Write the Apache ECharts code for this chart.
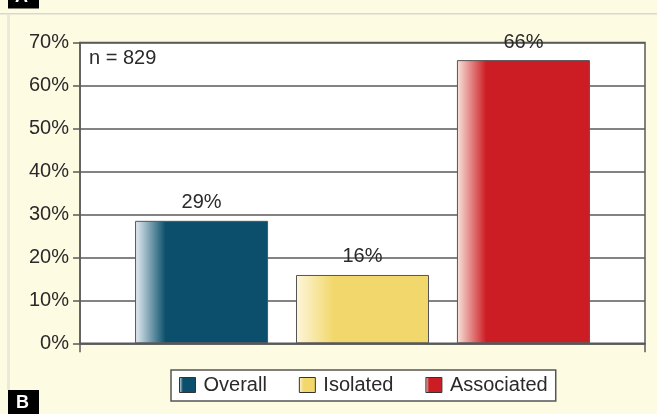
<!DOCTYPE html>
<html>
<head>
<meta charset="utf-8">
<script src="https://cdn.jsdelivr.net/npm/echarts@6/dist/echarts.min.js"></script>
<style>
html,body{margin:0;padding:0;background:#fefbe3;}
#chart{width:657px;height:414px;}
</style>
</head>
<body>
<div id="chart"></div>
<script>
const seriesNames = ['Overall', 'Isolated', 'Associated'];
const seriesValues = [28.5, 15.9, 65.9];
const valueLabels = ['29%', '16%', '66%'];
const yTicks = [0, 10, 20, 30, 40, 50, 60, 70];
const sampleNote = 'n = 829';

const baseColors = ['#0b4f6c', '#f2d86c', '#cd1d24'];
const lightColors = ['#e6eef3', '#fdf6dc', '#f8e4dc'];
const midStops = [0.23, 0.28, 0.22];

const chart = echarts.init(document.getElementById('chart'), null, {renderer: 'canvas'});

const series = seriesNames.map((name, i) => ({
  name: name,
  type: 'bar',
  data: [seriesValues[i]],
  barWidth: 133,
  barGap: '21%',
  itemStyle: {
    color: {
      type: 'linear', x: 0, y: 0, x2: 1, y2: 0,
      colorStops: [
        {offset: 0, color: lightColors[i]},
        {offset: midStops[i], color: baseColors[i]},
        {offset: 1, color: baseColors[i]}
      ]
    },
    borderColor: '#555',
    borderWidth: 1
  },
  label: {
    show: true,
    position: 'top',
    distance: 8,
    formatter: () => valueLabels[i],
    fontFamily: 'Liberation Sans, Arial, sans-serif',
    fontSize: 20,
    color: '#2a2a2a'
  }
}));

chart.setOption({
  animation: false,
  backgroundColor: '#fefbe3',
  grid: {
    left: 80, right: 12, top: 42.5, bottom: 70.7,
    show: true, backgroundColor: '#ffffff',
    borderColor: '#5a5a5a', borderWidth: 1.5
  },
  xAxis: {
    type: 'category',
    data: [''],
    axisLine: {lineStyle: {color: '#5a5a5a', width: 1.5}},
    axisTick: {show: true, length: 9, lineStyle: {color: '#5a5a5a', width: 1.5}},
    axisLabel: {show: false}
  },
  yAxis: {
    type: 'value',
    min: yTicks[0],
    max: yTicks[yTicks.length - 1],
    interval: 10,
    axisLine: {show: true, lineStyle: {color: '#5a5a5a', width: 1.5}},
    axisTick: {show: true, length: 7, lineStyle: {color: '#5a5a5a', width: 1.5}},
    splitLine: {lineStyle: {color: '#5a5a5a', width: 1.5}},
    axisLabel: {
      formatter: '{value}%',
      fontFamily: 'Liberation Sans, Arial, sans-serif',
      fontSize: 20,
      color: '#2a2a2a',
      margin: 11,
      padding: [5, 0, 0, 0]
    }
  },
  legend: {
    data: seriesNames,
    icon: 'rect',
    left: 171,
    top: 370,
    backgroundColor: '#ffffff',
    borderColor: '#555',
    borderWidth: 1.5,
    padding: [5, 8, 6, 8],
    itemWidth: 16,
    itemHeight: 15,
    itemGap: 32,
    itemStyle: {borderColor: '#333', borderWidth: 1},
    textStyle: {
      fontFamily: 'Liberation Sans, Arial, sans-serif',
      fontSize: 20,
      color: '#2a2a2a',
      padding: [0, 0, 0, 3]
    }
  },
  graphic: [
    {type: 'rect', left: 0, top: 13, shape: {width: 657, height: 1.5}, style: {fill: '#d8d8d0'}, silent: true},
    {type: 'rect', left: 7, top: 14, shape: {width: 3, height: 376}, style: {fill: '#ece9d6'}, silent: true},
    {type: 'rect', left: 8, top: 0, shape: {width: 31, height: 8.5}, style: {fill: '#000'}, silent: true},
    {type: 'text', left: 15, top: -12, style: {text: 'A', fill: '#fff', font: 'bold 18px Liberation Sans, Arial, sans-serif'}, silent: true},
    {type: 'rect', left: 8, top: 390, shape: {width: 31, height: 24}, style: {fill: '#000'}, silent: true},
    {type: 'text', left: 16, top: 394, style: {text: 'B', fill: '#fff', font: 'bold 18px Liberation Sans, Arial, sans-serif'}, silent: true},
    {type: 'text', left: 89, top: 48, style: {text: sampleNote, fill: '#2a2a2a', font: '20px Liberation Sans, Arial, sans-serif'}, silent: true}
  ],
  series: series
});
</script>
</body>
</html>
